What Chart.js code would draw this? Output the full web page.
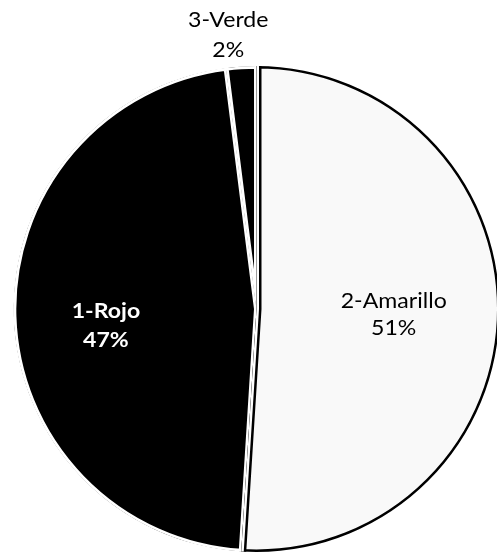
<!DOCTYPE html>
<html>
<head>
<meta charset="utf-8">
<script src="https://cdn.jsdelivr.net/npm/chart.js@4.4.1/dist/chart.umd.min.js"></script>
<style>
  html, body { margin: 0; padding: 0; background: #fff; overflow: hidden; }
  #wrap { position: absolute; left: 0; top: 0; width: 500px; height: 552px; }
</style>
</head>
<body>
<div id="wrap"><canvas id="pie"></canvas></div>
<script>
// slices, clockwise from 12 o'clock
const categories = ["2-Amarillo", "1-Rojo", "3-Verde"]
const shares     = [51, 47, 2] // percent

// look of each slice / label (same order as categories)
const sliceFill   = ["#f9f9f9", "#000000", "#000000"]
const labelColor  = ["#000000", "#ffffff", "#000000"]
const labelWeight = ["normal", "bold", "normal"]
const labelRadius = [0.565, 0.62, 1.13]          // fraction of the radius
const labelNudge  = [[0, 1], [0, 12], [-11, 0]]  // px
const labelGap    = [27, 29.5, 30]               // px between the two lines
const FONT = "Lato"
const FONT_SIZE = 21
const STRETCH = 1.1 // the scan's text is a bit wider than the font

// Amarillo gets a black rim, held back from its neighbours by a white strip.
// Labels are drawn by hand since there is no datalabels plugin here.
const decor = {
  id: "decor",
  afterDatasetsDraw(chart) {
    const ctx  = chart.ctx
    const arcs = chart.getDatasetMeta(0).data

    const a = arcs[0].getProps(["x", "y", "startAngle", "endAngle", "outerRadius"], true)
    const wedge = () => {
      ctx.beginPath()
      ctx.moveTo(a.x, a.y)
      ctx.arc(a.x, a.y, a.outerRadius, a.startAngle, a.endAngle)
      ctx.closePath()
    }
    const edges = () => {
      const r = a.outerRadius + 10
      ctx.beginPath()
      ctx.moveTo(a.x + Math.cos(a.startAngle) * r, a.y + Math.sin(a.startAngle) * r)
      ctx.lineTo(a.x, a.y)
      ctx.lineTo(a.x + Math.cos(a.endAngle) * r, a.y + Math.sin(a.endAngle) * r)
    }
    ctx.save()
    wedge()
    ctx.clip()
    ctx.lineJoin = "miter"
    ctx.strokeStyle = "#000"
    ctx.lineWidth = 5
    wedge(); ctx.stroke()
    ctx.lineWidth = 10
    edges(); ctx.stroke()
    ctx.strokeStyle = "#fff"
    ctx.lineWidth = 5
    edges(); ctx.stroke()
    ctx.restore()

    arcs.forEach((arc, i) => {
      const p = arc.getProps(["x", "y", "startAngle", "endAngle", "outerRadius"], true)
      const mid = (p.startAngle + p.endAngle) / 2
      const r = p.outerRadius * labelRadius[i]
      const cx = p.x + Math.cos(mid) * r + labelNudge[i][0]
      const cy = p.y + Math.sin(mid) * r + labelNudge[i][1]
      ctx.save()
      ctx.translate(cx, cy)
      ctx.scale(STRETCH, 1)
      ctx.textAlign = "center"
      ctx.textBaseline = "middle"
      ctx.fillStyle = labelColor[i]
      ctx.font = `${labelWeight[i]} ${FONT_SIZE}px ${FONT}`
      ctx.fillText(categories[i], 0, -labelGap[i] / 2)
      ctx.fillText(shares[i] + "%", 0, labelGap[i] / 2)
      ctx.restore()
    })
  }
}

new Chart(document.getElementById("pie"), {
  type: "pie",
  data: {
    labels: categories,
    datasets: [{
      data: shares,
      backgroundColor: sliceFill,
      borderColor: ["rgba(0,0,0,0)", "#ffffff", "#ffffff"],
      borderWidth: [0, 2.5, 2.5],
      borderAlign: "inner",
    }],
  },
  options: {
    responsive: true,
    maintainAspectRatio: false,
    animation: false,
    events: [],
    layout: { padding: { left: 13, top: 66, right: 0, bottom: 0 } },
    plugins: { legend: { display: false }, tooltip: { enabled: false } },
  },
  plugins: [decor],
})
</script>
</body>
</html>
